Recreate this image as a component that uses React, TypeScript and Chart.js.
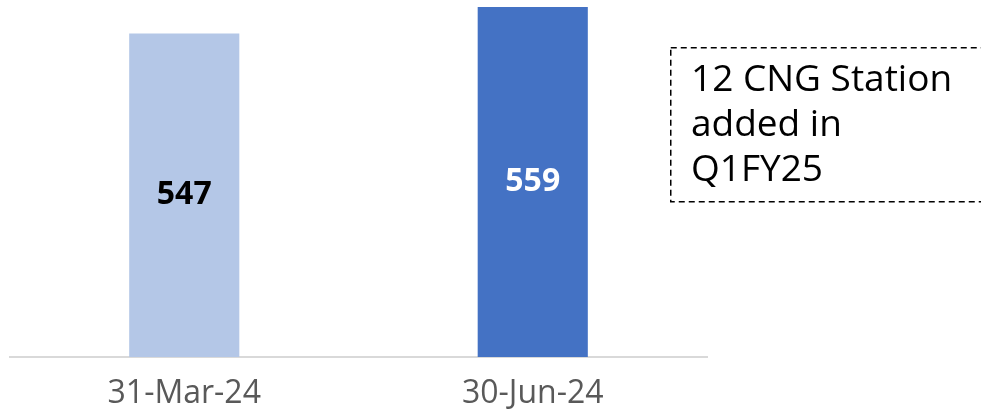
import React, { useEffect, useRef } from "react";
import { Chart, registerables } from "chart.js";

Chart.register(...registerables);

const categories = ["31-Mar-24", "30-Jun-24"];
const stations = [547, 559];
const barColors = ["#B4C7E7", "#4472C4"];
const labelColors = ["#000000", "#FFFFFF"];
const noteLines = ["12 CNG Station", "added in", "Q1FY25"];

const FONT = "'Open Sans', 'Noto Sans', sans-serif";

const valueLabels = {
  id: "valueLabels",
  afterDraw(chart: any) {
    const ctx = chart.ctx;
    const xs = chart.scales.x;
    const ys = chart.scales.y;
    ctx.save();
    ctx.font = `bold 32px ${FONT}`;
    ctx.textAlign = "center";
    ctx.textBaseline = "middle";
    stations.forEach((v, i) => {
      const x = xs.getPixelForValue(i);
      const top = ys.getPixelForValue(v);
      const base = ys.getPixelForValue(ys.min);
      ctx.fillStyle = labelColors[i];
      ctx.fillText(String(v), x, (top + base) / 2);
    });
    ctx.restore();
  },
};

export default function App() {
  const ref = useRef<HTMLCanvasElement | null>(null);
  useEffect(() => {
    if (!ref.current) return;
    const chart = new Chart(ref.current, {
      type: "bar",
      data: {
        labels: categories,
        datasets: [
          {
            data: stations,
            backgroundColor: barColors,
            barPercentage: 0.632,
            categoryPercentage: 0.5,
          },
        ],
      },
      options: {
        animation: false,
        responsive: true,
        maintainAspectRatio: false,
        layout: { padding: { left: 10, right: 274, top: 7, bottom: 0 } },
        plugins: { legend: { display: false }, tooltip: { enabled: false } },
        scales: {
          y: { display: false, min: 400, max: 559 },
          x: {
            grid: { display: false, drawTicks: false },
            border: { display: true, color: "#D9D9D9", width: 2 },
            ticks: {
              color: "#595959",
              font: { family: FONT, size: 32 },
              padding: 18,
            },
            afterFit: (scale: any) => {
              scale.height = 56;
            },
          },
        },
      },
      plugins: [valueLabels],
    });
    return () => chart.destroy();
  }, []);

  return (
    <div style={{ position: "fixed", left: 0, top: 0, width: 981, height: 413, background: "#fff" }}>
      <canvas ref={ref} />
      <svg
        width={981}
        height={413}
        style={{ position: "absolute", left: 0, top: 0, pointerEvents: "none" }}
      >
        <rect
          x={670.75}
          y={47.75}
          width={330}
          height={154}
          fill="none"
          stroke="#000"
          strokeWidth={1.5}
          strokeDasharray="6 4"
        />
      </svg>
      <div
        style={{
          position: "absolute",
          left: 670,
          top: 47,
          width: 330,
          height: 155,
          boxSizing: "border-box",
          padding: "7px 0 0 21px",
          fontFamily: FONT,
          fontSize: 37,
          lineHeight: "45px",
          color: "#000",
        }}
      >
        {noteLines.map((l, i) => (
          <div key={i} style={{ whiteSpace: "nowrap" }}>{l}</div>
        ))}
      </div>
    </div>
  );
}
